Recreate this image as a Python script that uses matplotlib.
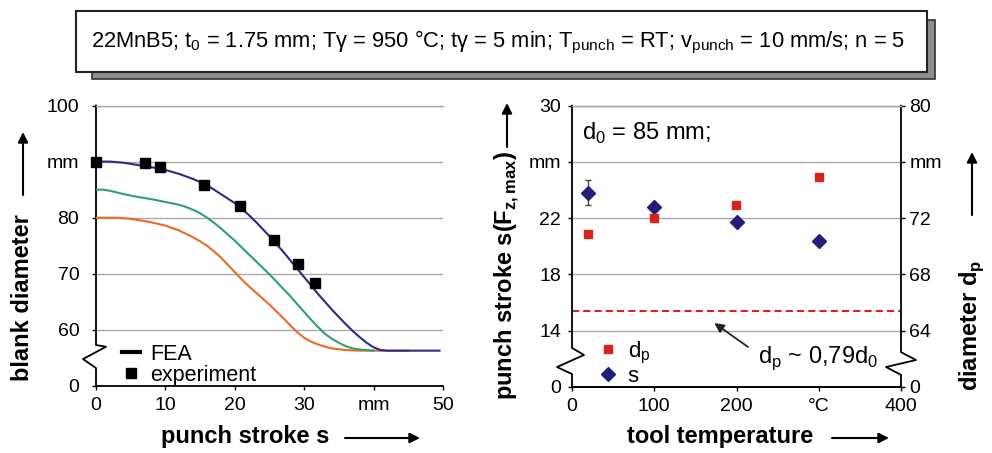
import matplotlib
matplotlib.use("Agg")
import matplotlib.pyplot as plt
from matplotlib import font_manager
from matplotlib.lines import Line2D
from matplotlib.patches import Rectangle, FancyArrowPatch

# ---------------- data ----------------
# left panel: FEA curves (blank diameter vs punch stroke)
fea_blue_x = [0, 2, 4, 6, 8, 10, 12, 14, 16, 18, 20, 21, 22, 23, 24, 25, 26, 27, 28, 29, 30,
              31, 32, 33, 34, 35, 36, 37, 38, 39, 40, 41, 42, 49.5]
fea_blue_y = [90.0, 90.0, 89.8, 89.4, 89.0, 88.5, 87.8, 86.9, 85.8, 84.2, 82.6, 81.6, 80.5, 79.3,
              78.0, 76.7, 75.3, 73.9, 72.4, 70.9, 69.4, 67.9, 66.4, 65.0, 63.6, 62.3, 61.0, 59.8,
              58.7, 57.7, 56.9, 56.4, 56.3, 56.3]
fea_green_x = [0, 1, 2, 4, 6, 8, 10, 12, 13, 14, 15, 16, 17, 18, 19, 20, 21, 22, 23, 24, 25, 26,
               27, 28, 29, 30, 31, 32, 33, 34, 35, 36, 37, 38, 39, 40]
fea_green_y = [85.0, 85.0, 84.8, 84.2, 83.7, 83.3, 82.8, 82.3, 81.9, 81.4, 80.8, 80.0, 79.1, 78.1,
               77.0, 75.9, 74.7, 73.5, 72.3, 71.1, 69.9, 68.6, 67.3, 66.0, 64.6, 63.2, 61.8, 60.5,
               59.3, 58.4, 57.7, 57.1, 56.7, 56.5, 56.4, 56.3]
fea_orange_x = [0, 3, 5, 7.5, 10, 12, 14, 15, 16, 17, 18, 19, 20, 21, 22, 23, 24, 25, 26, 27, 28,
                29, 30, 31, 32, 33, 34, 36, 38, 45]
fea_orange_y = [80.0, 80.0, 79.8, 79.3, 78.6, 77.7, 76.5, 75.8, 75.0, 74.0, 72.9, 71.6, 70.3, 69.0,
                67.8, 66.7, 65.6, 64.5, 63.3, 62.1, 60.8, 59.6, 58.6, 57.9, 57.4, 57.0, 56.7, 56.4,
                56.3, 56.3]
exp_x = [0, 7.0, 9.2, 15.6, 20.7, 25.6, 29.1, 31.6]
exp_y = [89.9, 89.7, 89.0, 85.9, 82.0, 76.1, 71.7, 68.4]

left_xticks = [0, 10, 20, 30, 40, 50]
left_xticklabels = ["0", "10", "20", "30", "mm", "50"]
left_yticks = [50, 60, 70, 80, 90, 100]
left_yticklabels = ["0", "60", "70", "80", "mm", "100"]

# right panel: tool temperature study
tool_temp = [20, 100, 200, 300]
dp_values = [70.9, 72.0, 72.9, 74.9]          # right axis (diameter d_p)
s_values = [23.8, 22.8, 21.7, 20.4]           # left axis (punch stroke)
s_err_low = [0.85, 0, 0, 0]
s_err_high = [0.9, 0, 0, 0]
dp_limit = 65.4                                # d_p ~ 0,79 d_0

right_xticks = [0, 100, 200, 300, 400]
right_xticklabels = ["0", "100", "200", "°C", "400"]
right_yticks = [10, 14, 18, 22, 26, 30]
right_yticklabels = ["0", "14", "18", "22", "mm", "30"]
right_y2ticks = [60, 64, 68, 72, 76, 80]
right_y2ticklabels = ["0", "64", "68", "72", "mm", "80"]

title_text = ("22MnB5; t$_\\mathregular{0}$ = 1.75 mm; T\u03b3 = 950 °C; t\u03b3 = 5 min; "
              "T$_\\mathregular{punch}$ = RT; v$_\\mathregular{punch}$ = 10 mm/s; n = 5")

# ---------------- style ----------------
W, H = 992, 453
plt.rcParams['font.family'] = ['Liberation Sans', 'DejaVu Sans']
names = {f.name for f in font_manager.fontManager.ttflist}
narrow = 'Liberation Sans Narrow' if 'Liberation Sans Narrow' in names else 'Liberation Sans'

C_BLUE = "#2c2a84"
C_GREEN = "#2fa070"
C_ORANGE = "#ea6a2a"
C_RED = "#d8231c"
C_DIA = "#231e7a"
C_GRID = "#a9a9a9"

fig = plt.figure(figsize=(W / 100, H / 100), dpi=100)


def fx(px):
    return px / W


def fy(py):
    return 1 - py / H


TICK_FS = 14
LAB_FS = 17

# ---------------- left panel ----------------
axL = fig.add_axes([fx(96), fy(386), fx(443) - fx(96), fy(105.5) - fy(386)])
axL.plot(fea_orange_x, fea_orange_y, color=C_ORANGE, lw=1.5, zorder=3)
axL.plot(fea_green_x, fea_green_y, color=C_GREEN, lw=1.5, zorder=3)
axL.plot(fea_blue_x, fea_blue_y, color=C_BLUE, lw=1.5, zorder=4)
axL.plot(exp_x, exp_y, ls='none', marker='s', ms=6.5, color='black', zorder=5, clip_on=False)
axL.set_xlim(0, 50)
axL.set_ylim(50, 100)
axL.set_xticks(left_xticks)
axL.set_xticklabels(left_xticklabels)
axL.set_yticks(left_yticks)
axL.set_yticklabels(left_yticklabels)
axL.tick_params(axis='both', labelsize=TICK_FS, length=3, width=1, color='black')
axL.tick_params(axis='x', pad=5)
axL.tick_params(axis='y', pad=9)
axL.yaxis.grid(True, color=C_GRID, lw=1.0)
axL.set_axisbelow(True)
axL.spines['right'].set_visible(False)
axL.spines['top'].set_color(C_GRID)
axL.spines['top'].set_linewidth(1.0)
axL.spines['left'].set_visible(False)
axL.spines['bottom'].set_linewidth(1.3)
# left spine with axis break
axw = 347.0
axL.add_line(Line2D([0, 0, 10 / axw, -13 / axw, 0, 0],
                    [1, 0.146, 0.14, 0.096, 0.064, 0],
                    transform=axL.transAxes, color='black', lw=1.3, clip_on=False))
axL.legend(handles=[Line2D([], [], color='black', lw=3),
                    Line2D([], [], ls='none', marker='s', ms=7, color='black')],
           labels=['FEA', 'experiment'], loc='lower left',
           bbox_to_anchor=(0.075, 0.0), frameon=False, fontsize=15.5,
           handlelength=0.85, handletextpad=0.45, labelspacing=0.0,
           borderpad=0, borderaxespad=0)

# ---------------- right panel ----------------
axR = fig.add_axes([fx(572), fy(386.7), fx(901) - fx(572), fy(105.7) - fy(386.7)])
axR2 = axR.twinx()
axR.errorbar(tool_temp, s_values, yerr=[s_err_low, s_err_high], ls='none', ecolor='#444444',
             elinewidth=1, capsize=2.5, capthick=1, zorder=3)
axR.plot(tool_temp, s_values, ls='none', marker='D', ms=7.5, color=C_DIA, zorder=4)
axR2.plot(tool_temp, dp_values, ls='none', marker='s', ms=6.2, color=C_RED, zorder=4)
axR2.axhline(dp_limit, color=C_RED, lw=1.5, ls=(0, (3.4, 2.0)), zorder=2)
axR.set_xlim(0, 400)
axR.set_ylim(10, 30)
axR2.set_ylim(60, 80)
axR.set_xticks(right_xticks)
axR.set_xticklabels(right_xticklabels)
axR.set_yticks(right_yticks)
axR.set_yticklabels(right_yticklabels)
axR2.set_yticks(right_y2ticks)
axR2.set_yticklabels(right_y2ticklabels)
axR.tick_params(axis='both', labelsize=TICK_FS, length=3, width=1, color='black')
axR.tick_params(axis='x', pad=5)
axR.tick_params(axis='y', pad=5)
axR2.tick_params(axis='y', labelsize=TICK_FS, length=3, width=1, color='black', pad=3)
axR.yaxis.grid(True, color=C_GRID, lw=1.0)
axR.set_axisbelow(True)
for a in (axR, axR2):
    a.spines['left'].set_visible(False)
    a.spines['right'].set_visible(False)
    a.spines['top'].set_color(C_GRID)
    a.spines['top'].set_linewidth(1.0)
    a.spines['bottom'].set_linewidth(1.3)
rw = 329.0
axR2.add_line(Line2D([0, 0, 12 / rw, -15 / rw, 0, 0],
                     [1, 0.138, 0.113, 0.07, 0.045, 0],
                     transform=axR2.transAxes, color='black', lw=1.3, clip_on=False))
axR2.add_line(Line2D([1, 1, 1 + 15 / rw, 1 - 15 / rw, 1, 1],
                     [1, 0.123, 0.095, 0.07, 0.042, 0],
                     transform=axR2.transAxes, color='black', lw=1.3, clip_on=False))
axR2.text(12, 28.06 + 50, "d$_\\mathregular{0}$ = 85 mm;", fontsize=17, va='center', ha='left')
axR2.annotate("", xy=(173, 64.53), xytext=(214, 62.83),
              arrowprops=dict(arrowstyle='-|>', color='#222222', lw=1.3, mutation_scale=14,
                              shrinkA=0, shrinkB=0))
axR2.text(226, 62.04, "d$_\\mathregular{p}$ ~ 0,79d$_\\mathregular{0}$", fontsize=17,
          va='center', ha='left')
axR2.legend(handles=[Line2D([], [], ls='none', marker='s', ms=6.2, color=C_RED),
                     Line2D([], [], ls='none', marker='D', ms=7.5, color=C_DIA)],
            labels=['d$_\\mathregular{p}$', 's'], loc='lower left',
            bbox_to_anchor=(0.085, 0.0), frameon=False, fontsize=16,
            handlelength=0.7, handletextpad=0.55, labelspacing=0.0,
            borderpad=0, borderaxespad=0)

# ---------------- axis labels with arrows ----------------
def arrow(x0, y0, x1, y1):
    fig.add_artist(FancyArrowPatch((fx(x0), fy(y0)), (fx(x1), fy(y1)), transform=fig.transFigure,
                                   arrowstyle='-|>', mutation_scale=15, lw=1.5, color='black',
                                   shrinkA=0, shrinkB=0))


fig.text(fx(23), fy(298), "blank diameter", rotation=90, fontsize=LAB_FS, fontweight='bold',
         ha='center', va='center')
arrow(23, 195, 23, 132)
fig.text(fx(245), fy(437), "punch stroke s", fontsize=LAB_FS, fontweight='bold',
         ha='center', va='center')
arrow(345, 438, 420, 438)

fig.text(fx(507), fy(400), "punch stroke s(F$_\\mathregular{z,max}$)", rotation=90, fontsize=LAB_FS,
         fontweight='bold', ha='center', va='bottom')
arrow(507, 147, 507, 103)
fig.text(fx(720), fy(437), "tool temperature", fontsize=LAB_FS, fontweight='bold',
         ha='center', va='center')
arrow(832, 438, 889, 438)
fig.text(fx(972), fy(325), "diameter d$_\\mathregular{p}$", rotation=90, fontsize=LAB_FS,
         fontweight='bold', ha='center', va='center')
arrow(972, 215, 972, 152)

# ---------------- title box ----------------
fig.add_artist(Rectangle((fx(92), fy(79)), fx(935) - fx(92), fy(20) - fy(79), transform=fig.transFigure,
                         facecolor='#8e8e8e', edgecolor='#333333', lw=1.2))
fig.add_artist(Rectangle((fx(76), fy(72)), fx(927) - fx(76), fy(11) - fy(72), transform=fig.transFigure,
                         facecolor='white', edgecolor='#222222', lw=1.5))
t = fig.text(fx(498), fy(42), title_text, fontsize=17, family=[narrow, 'DejaVu Sans'],
             ha='center', va='center')
fig.canvas.draw()
bb = t.get_window_extent()
target = 816.0
t.set_fontsize(17 * target / bb.width if narrow == 'Liberation Sans' else 17 * min(1.15, max(0.85, target / bb.width)))

fig.savefig("out.png", dpi=100)
